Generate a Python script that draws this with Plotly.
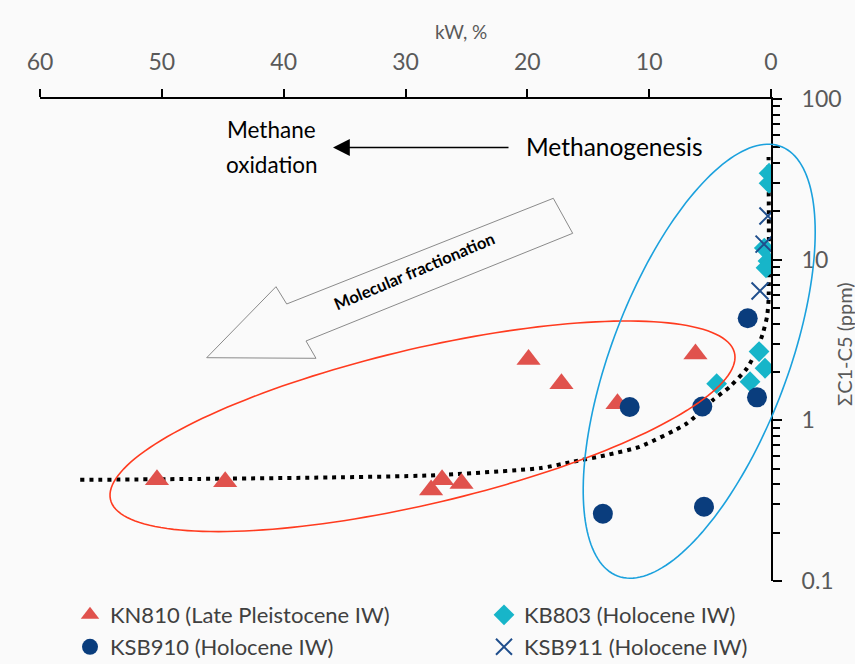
import numpy as np
import plotly.graph_objects as go

# ---------------- data ----------------
kn810_kw = [50.4, 44.8, 27.9, 27.0, 25.4, 19.9, 17.2, 12.6, 6.2]
kn810_c = [0.426, 0.414, 0.369, 0.426, 0.404, 2.39, 1.69, 1.27, 2.59]

kb803_kw = [0.16, 0.16, 0.55, 0.25, 0.41, 0.98, 0.49, 1.72, 4.46]
kb803_c = [34.5, 29.9, 11.8, 9.8, 8.9, 2.68, 2.11, 1.74, 1.69]

ksb910_kw = [1.91, 11.6, 5.64, 1.15, 13.8, 5.5]
ksb910_c = [4.32, 1.21, 1.22, 1.39, 0.262, 0.290]

ksb911_kw = [0.25, 0.57, 0.9]
ksb911_c = [18.7, 12.5, 6.39]

trend_kw = [56.7, 46.9, 36.2, 28.0, 18.96, 16.25, 13.46, 10.75, 6.89, 4.76,
            3.37, 1.97, 1.15, 0.66, 0.33, 0.2, 0.2]
trend_c = [0.426, 0.432, 0.441, 0.454, 0.504, 0.553, 0.609, 0.686, 0.959, 1.34,
           1.62, 2.11, 2.74, 3.50, 4.40, 5.6, 43.6]

x_ticks = [60, 50, 40, 30, 20, 10, 0]
y_ticks = [0.1, 1, 10, 100]
y_ticktext = ["0.1", "1", "10", "100"]

# ---------------- layout geometry ----------------
W, H = 855, 664
L, R, T, B = 40, 771, 99, 581
FONT = "Lato, 'Open Sans', sans-serif"
GREY = "#595959"

def px2paper(x, y):
    return (x - L) / (R - L), (B - y) / (B - T)

def ellipse_px(cx, cy, hw, hh, cphi, n=180):
    # x = cx + hw*cos t ; y = cy + hh*cos(t + phi)
    phi = np.arccos(cphi)
    t = np.linspace(0, 2 * np.pi, n)
    return np.column_stack([cx + hw * np.cos(t), cy + hh * np.cos(t + phi)])

def path_from_px(pts, close=True):
    parts = []
    for i, (x, y) in enumerate(pts):
        u, v = px2paper(x, y)
        parts.append(("M" if i == 0 else "L") + f"{u:.5f},{v:.5f}")
    return " ".join(parts) + (" Z" if close else "")

arrow_poly = [(206.7, 357.7), (276, 286.7), (286.7, 304), (553.3, 198.3),
              (572.7, 233.3), (306, 341), (316, 358.3)]

fig = go.Figure()

fig.add_trace(go.Scatter(x=trend_kw, y=trend_c, mode="lines", showlegend=False,
                         line=dict(color="black", width=4, dash="4px,5px", shape="spline", smoothing=0.6),
                         hoverinfo="skip"))

fig.add_trace(go.Scatter(x=kn810_kw, y=kn810_c, mode="markers", name="KN810 (Late Pleistocene IW)",
                         marker=dict(symbol="triangle-up", size=21, color="#E0524D"), legend="legend"))
fig.add_trace(go.Scatter(x=kb803_kw, y=kb803_c, mode="markers", name="KB803 (Holocene IW)",
                         marker=dict(symbol="diamond", size=16, color="#17B5C9"), legend="legend2"))
fig.add_trace(go.Scatter(x=ksb910_kw, y=ksb910_c, mode="markers", name="KSB910 (Holocene IW)",
                         marker=dict(symbol="circle", size=20, color="#0A3D7D"), legend="legend3"))
fig.add_trace(go.Scatter(x=ksb911_kw, y=ksb911_c, mode="markers", name="KSB911 (Holocene IW)",
                         marker=dict(symbol="x-thin-open", size=17, color="#1F4E8C",
                                     line=dict(width=2, color="#1F4E8C")), legend="legend4"))

shapes = [
    dict(type="path", xref="paper", yref="paper",
         path=path_from_px(ellipse_px(422.5, 426.3, 312.5, 105.3, -0.655)),
         line=dict(color="#FF3B1F", width=1.6), layer="above"),
    dict(type="path", xref="paper", yref="paper",
         path=path_from_px(ellipse_px(699.2, 361.2, 116, 217, -0.595)),
         line=dict(color="#1BA1DD", width=1.6), layer="above"),
    dict(type="path", xref="paper", yref="paper", path=path_from_px(arrow_poly),
         line=dict(color="#8A8A8A", width=1), fillcolor="rgba(0,0,0,0)", layer="above"),
]

def ann(x, y, text, size, color="black", **kw):
    u, v = px2paper(x, y)
    d = dict(x=u, y=v, xref="paper", yref="paper", text=text, showarrow=False,
             xanchor="center", yanchor="middle",
             font=dict(family=FONT, size=size, color=color))
    d.update(kw)
    return d

annotations = [
    ann(461, 31, "kW, %", 19, GREY),
    ann(844, 344, "\u03a3C1-C5 (ppm)", 20, GREY, textangle=-90),
    ann(271, 129, "Methane", 22.5, "black"),
    ann(272, 164, "oxidation", 22.5, "black"),
    ann(614, 146, "Methanogenesis", 24.5, "black"),
    ann(415, 271, "<b>Molecular fractionation</b>", 16.5, "black", textangle=-23),
]
tx, ty = px2paper(333, 147.5)
annotations.append(dict(x=tx, y=ty, xref="paper", yref="paper", ax=177, ay=0,
                        axref="pixel", ayref="pixel", text="", showarrow=True,
                        arrowhead=2, arrowsize=2.4, arrowwidth=1.4, arrowcolor="black"))

minor_vals = [k * 10.0 ** e for e in (-1, 0, 1) for k in range(2, 10)]

legend_common = dict(bgcolor="rgba(0,0,0,0)", font=dict(family=FONT, size=22, color="#404040"),
                     xanchor="left", yanchor="middle", borderwidth=0)

def leg(xpx, ypx):
    u, v = px2paper(xpx, ypx)
    d = dict(legend_common)
    d.update(x=u, y=v)
    return d

fig.update_layout(
    width=W, height=H,
    margin=dict(l=L, r=W - R, t=T, b=H - B, autoexpand=False),
    paper_bgcolor="#FAFAFA", plot_bgcolor="#FAFAFA",
    shapes=shapes, annotations=annotations,
    legend=leg(70, 615), legend2=leg(484, 615),
    legend3=leg(70, 647), legend4=leg(484, 647),
    xaxis=dict(side="top", range=[60, 0], tickvals=x_ticks, showgrid=False, zeroline=False,
               showline=True, linecolor="black", linewidth=2, ticks="outside", ticklen=8,
               tickwidth=2, tickcolor="black", ticklabelstandoff=10,
               tickfont=dict(family=FONT, size=23, color=GREY)),
    yaxis=dict(side="right", type="log", range=[-1, 2], tickvals=y_ticks, ticktext=y_ticktext,
               showgrid=False, zeroline=False, showline=True, linecolor="black", linewidth=2,
               ticks="outside", ticklen=9, tickwidth=2, tickcolor="black", ticklabelstandoff=15,
               tickfont=dict(family=FONT, size=23, color=GREY),
               minor=dict(tickvals=minor_vals, ticks="outside", ticklen=7, tickwidth=2,
                          tickcolor="black", showgrid=False)),
)

fig.write_html("out.html")
